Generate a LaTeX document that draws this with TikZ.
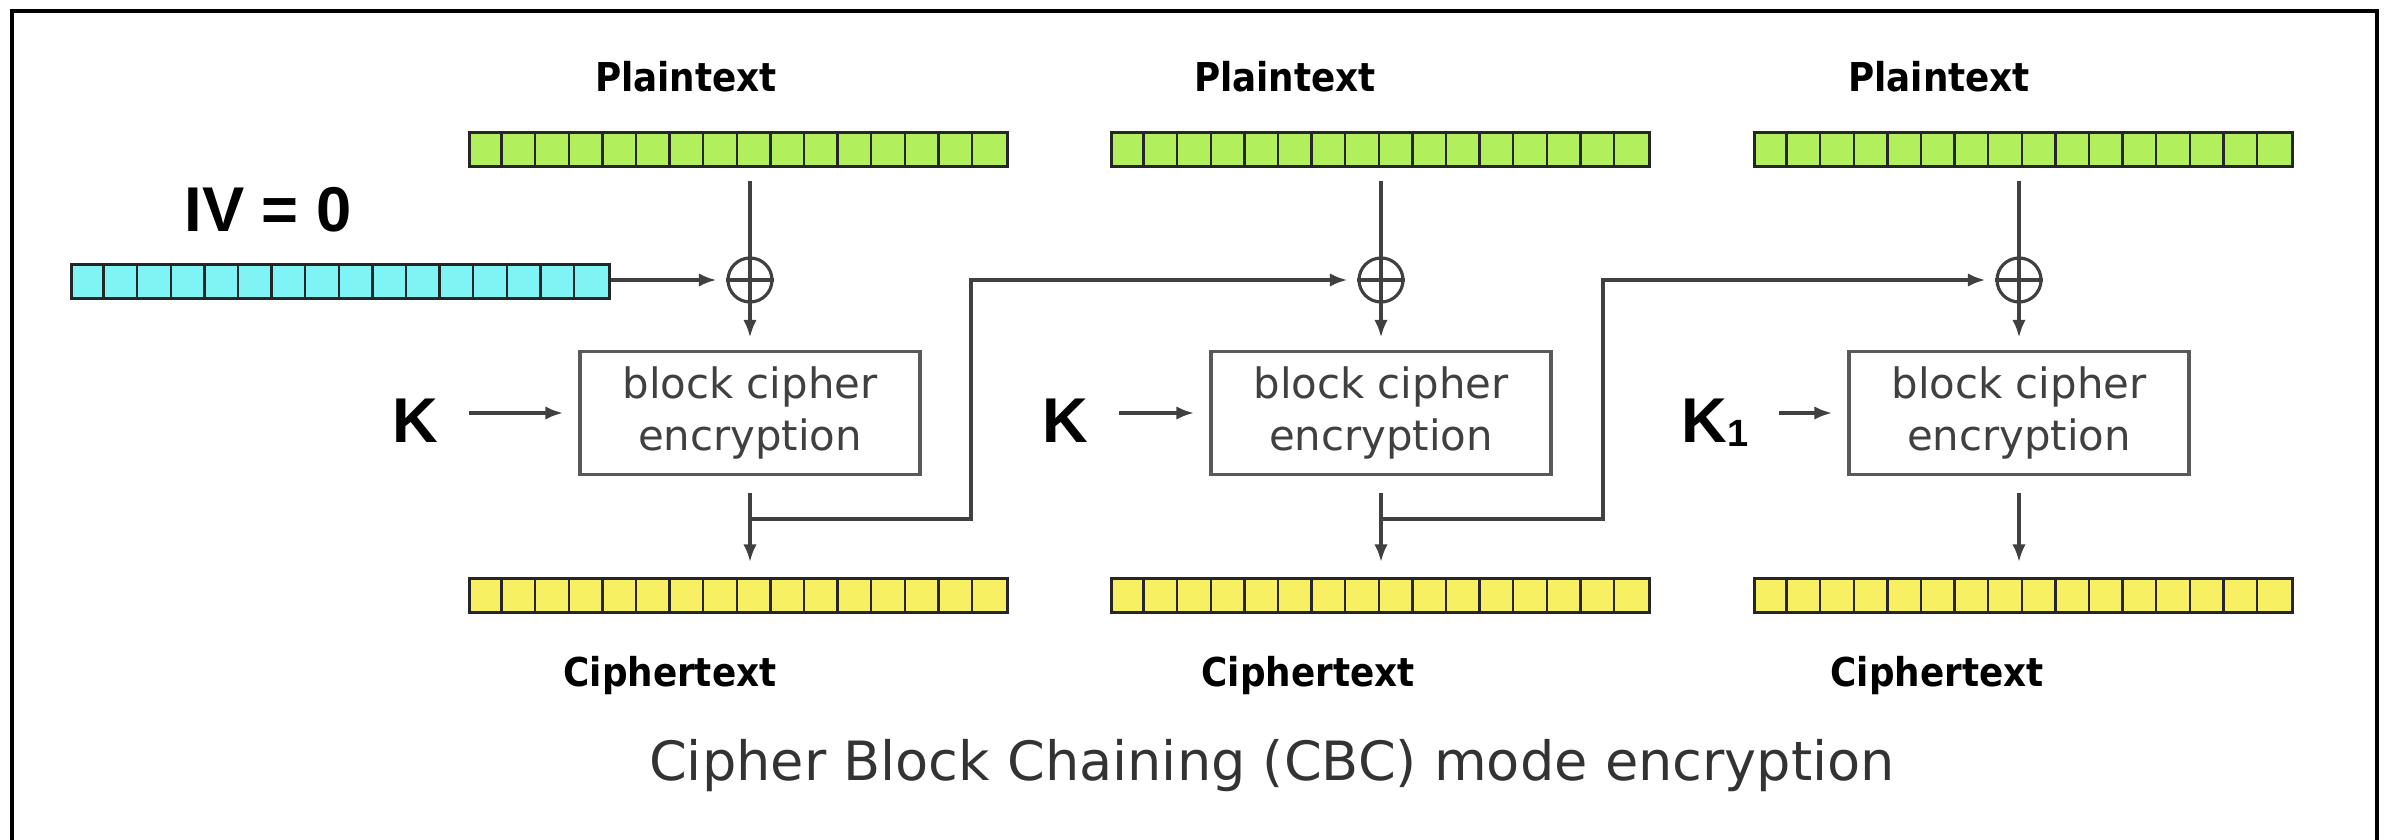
\documentclass[tikz,border=0pt]{standalone}
\usepackage{fontspec}
\setmainfont{DejaVu Sans}
\newfontfamily\labelfont{DejaVu Sans}[FakeStretch=0.9]
\newfontfamily\keyfont{Liberation Sans}
\usetikzlibrary{arrows.meta}
\definecolor{ptgreen}{HTML}{B2EF5C}
\definecolor{ivcyan}{HTML}{7FF4F4}
\definecolor{ctyellow}{HTML}{F7F062}
\begin{document}
\begin{tikzpicture}[x=0.01cm, y=-0.01cm,
    bar/.style={draw=black!85, line width=0.8pt, minimum width=5.38cm, minimum height=0.34cm, inner sep=0, anchor=north west},
    cellline/.style={draw=black!85, line width=0.7pt},
    cipherbox/.style={draw=black!65, line width=1.1pt, minimum width=3.4cm, minimum height=1.23cm, inner sep=0, text=black!75, align=center, font=\fontsize{11.9}{15}\selectfont},
    xorsym/.style={circle, draw=black!75, line width=0.9pt, minimum size=0.44cm, inner sep=0},
    wire/.style={draw=black!75, line width=0.9pt},
    arr/.style={wire, -{Latex[length=5pt,width=3.8pt]}},
    lbl/.style={font=\labelfont\bfseries\fontsize{11.3}{13}\selectfont, inner sep=0, anchor=base},
    keylbl/.style={font=\keyfont\bfseries\fontsize{18}{20}\selectfont, inner sep=0, anchor=base west}]
    \useasboundingbox (0,0) rectangle (2386,840);
    \draw[line width=0.9pt] (12,840) -- (12,11) -- (2377,11) -- (2377,840);

    \foreach \n/\x/\y/\c in {p1/468/131/ptgreen, p2/1110/131/ptgreen, p3/1753/131/ptgreen,
        c1/468/577/ctyellow, c2/1110/577/ctyellow, c3/1753/577/ctyellow, iv/70/263/ivcyan} {
        \node[bar, fill=\c] (\n) at (\x,\y) {};
        \foreach \i in {1,...,15}
            \draw[cellline] (\n.north west) ++(\i*33.6,0) -- ++(0,34);
    }

    \node[lbl] (pt1) at (686,92) {Plaintext};
    \node[lbl] (pt2) at (1285,92) {Plaintext};
    \node[lbl] (pt3) at (1939,92) {Plaintext};
    \node[lbl] (ct1) at (670,686) {Ciphertext};
    \node[lbl] (ct2) at (1308,686) {Ciphertext};
    \node[lbl] (ct3) at (1937,686) {Ciphertext};
    \node[keylbl, anchor=base] (ivlbl) at (268,232) {IV = 0};

    \node[cipherbox] (b1) at (750,413) {block cipher\\encryption};
    \node[cipherbox] (b2) at (1381,413) {block cipher\\encryption};
    \node[cipherbox] (b3) at (2019,413) {block cipher\\encryption};

    \node[xorsym] (x1) at (750,280) {};
    \node[xorsym] (x2) at (1381,280) {};
    \node[xorsym] (x3) at (2019,280) {};

    \node[keylbl] (k1) at (392,442) {K};
    \node[keylbl] (k2) at (1042,442) {K};
    \node[keylbl] (k3) at (1681,442) {K\raisebox{-1.4pt}{\fontsize{10.8}{12}\selectfont 1}};

    \foreach \i in {1,2,3} {
        \draw[wire] (x\i.west) -- (x\i.east);
        \draw[wire, shorten <=0.13cm] (x\i |- p\i.south) -- (x\i.south);
        \draw[arr, shorten >=0.12cm] (x\i.south) -- (b\i.north);
        \draw[arr, shorten <=0.17cm, shorten >=0.15cm] (b\i.south) -- (b\i.south |- c\i.north);
        \draw[arr, shorten <=0.3cm, shorten >=0.15cm] (k\i.east |- b\i.west) -- (b\i.west);
    }

    \draw[arr, shorten >=0.1cm] (iv.east |- x1) -- (x1.west);
    \coordinate (j1) at (750,519);
    \coordinate (j2) at (1381,519);
    \draw[arr, shorten >=0.1cm] (j1) -- ++(221,0) |- (x2.west);
    \draw[arr, shorten >=0.1cm] (j2) -- ++(222,0) |- (x3.west);

    \node[font=\fontsize{15.4}{18}\selectfont, text=black!80, anchor=base] (title) at (1272,780) {Cipher Block Chaining (CBC) mode encryption};
\end{tikzpicture}
\end{document}
